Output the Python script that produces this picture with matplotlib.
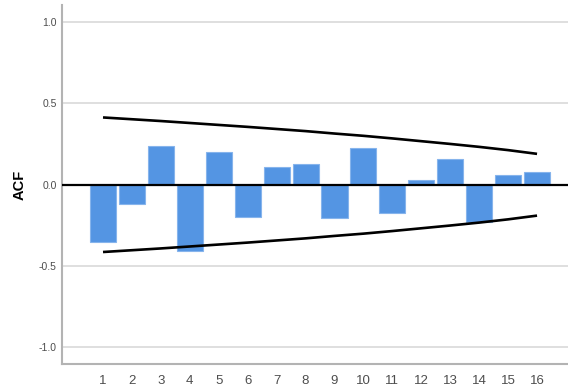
import matplotlib
matplotlib.use("Agg")
import matplotlib.pyplot as plt

# Autocorrelation by lag
lags = list(range(1, 17))
acf_values = [-0.35, -0.12, 0.236, -0.408, 0.20, -0.198, 0.108, 0.13,
              -0.207, 0.224, -0.172, 0.031, 0.157, -0.229, 0.058, 0.077]
# Upper confidence limit per lag (lower limit is its negative)
upper_limit = [0.414, 0.403, 0.392, 0.380, 0.368, 0.356, 0.343, 0.330,
               0.315, 0.301, 0.285, 0.268, 0.251, 0.233, 0.213, 0.190]
lower_limit = [-v for v in upper_limit]
y_ticks = [-1.0, -0.5, 0.0, 0.5, 1.0]
y_tick_labels = ["-1.0", "-0.5", "0.0", "0.5", "1.0"]

plt.rcParams["font.family"] = ["Liberation Sans", "DejaVu Sans"]

fig = plt.figure(figsize=(5.68, 3.92), dpi=100)
ax = fig.add_axes([62.3 / 568, 27.7 / 392, 1 - 62.3 / 568, (364.3 - 5) / 392])

ax.set_xlim(-0.407, 17.07)
ax.set_ylim(-1.105, 1.106)

# grid lines
for yv in y_ticks:
    if yv != 0:
        ax.axhline(yv, color="#d9d9d9", lw=1.2, zorder=0)

ax.bar(lags, acf_values, width=0.9, color="#5495e3",
       edgecolor="#86b4ec", linewidth=0.8, zorder=2)

ax.axhline(0, color="black", lw=1.6, zorder=3)
ax.plot(lags, upper_limit, color="black", lw=1.9, zorder=4,
        solid_capstyle="butt")
ax.plot(lags, lower_limit, color="black", lw=1.9, zorder=4,
        solid_capstyle="butt")

ax.set_xticks(lags)
ax.set_xticklabels([str(l) for l in lags])
ax.set_yticks(y_ticks)
ax.set_yticklabels(y_tick_labels)
ax.tick_params(axis="x", length=0, pad=8, labelsize=9.5, labelcolor="#4d4d4d")
ax.tick_params(axis="y", length=0, pad=4, labelsize=7.5, labelcolor="#4d4d4d")

for side in ("top", "right"):
    ax.spines[side].set_visible(False)
for side in ("left", "bottom"):
    ax.spines[side].set_color("#b3b3b3")
    ax.spines[side].set_linewidth(1.5)

ax.set_ylabel("ACF", fontsize=10.5, fontweight="bold", labelpad=9)

fig.savefig("out.png", dpi=100)
